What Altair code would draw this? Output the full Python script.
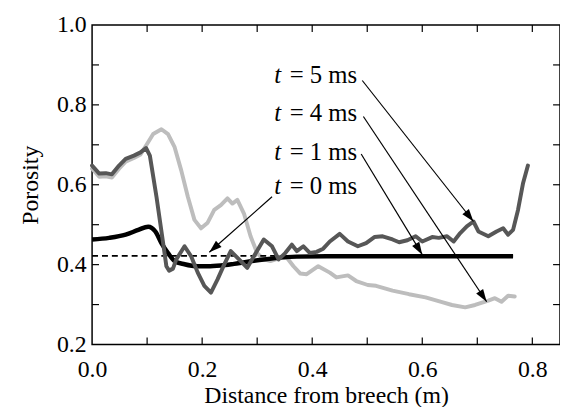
import math
import altair as alt
import pandas as pd

# ---- data ----
t5_x = [0.000, 0.013, 0.025, 0.036, 0.049, 0.061, 0.076, 0.088, 0.098, 0.105, 0.117, 0.129,
        0.135, 0.140, 0.147, 0.153, 0.168, 0.180, 0.192, 0.204, 0.216, 0.228, 0.240, 0.252,
        0.267, 0.282, 0.294, 0.312, 0.327, 0.339, 0.351, 0.363, 0.372, 0.384, 0.396, 0.408,
        0.420, 0.432, 0.450, 0.465, 0.483, 0.498, 0.513, 0.528, 0.546, 0.558, 0.573, 0.588,
        0.600, 0.618, 0.630, 0.645, 0.657, 0.669, 0.681, 0.693, 0.702, 0.720, 0.735, 0.747,
        0.756, 0.765, 0.774, 0.783, 0.792]
t5_y = [0.648, 0.628, 0.629, 0.626, 0.648, 0.665, 0.673, 0.681, 0.692, 0.673, 0.570, 0.455,
        0.396, 0.385, 0.390, 0.413, 0.446, 0.421, 0.380, 0.347, 0.330, 0.363, 0.400, 0.434,
        0.413, 0.392, 0.421, 0.463, 0.446, 0.413, 0.429, 0.450, 0.434, 0.446, 0.429, 0.432,
        0.440, 0.458, 0.477, 0.458, 0.446, 0.454, 0.469, 0.471, 0.463, 0.456, 0.461, 0.471,
        0.458, 0.469, 0.467, 0.471, 0.458, 0.479, 0.496, 0.508, 0.483, 0.471, 0.483, 0.491,
        0.475, 0.487, 0.537, 0.603, 0.648]

t4_x = [0.000, 0.013, 0.025, 0.036, 0.049, 0.061, 0.076, 0.088, 0.099, 0.111, 0.126, 0.138,
        0.150, 0.162, 0.174, 0.186, 0.198, 0.210, 0.222, 0.234, 0.246, 0.255, 0.264, 0.276,
        0.288, 0.300, 0.312, 0.324, 0.342, 0.354, 0.366, 0.378, 0.390, 0.411, 0.432, 0.444,
        0.465, 0.480, 0.501, 0.516, 0.546, 0.576, 0.606, 0.636, 0.654, 0.678, 0.696, 0.720,
        0.732, 0.744, 0.756, 0.768]
t4_y = [0.640, 0.620, 0.621, 0.618, 0.640, 0.658, 0.667, 0.676, 0.700, 0.727, 0.739, 0.727,
        0.694, 0.636, 0.570, 0.512, 0.491, 0.505, 0.537, 0.549, 0.566, 0.553, 0.562, 0.528,
        0.471, 0.429, 0.413, 0.409, 0.417, 0.417, 0.396, 0.378, 0.376, 0.396, 0.380, 0.368,
        0.373, 0.359, 0.349, 0.347, 0.335, 0.326, 0.318, 0.306, 0.299, 0.293, 0.299, 0.310,
        0.316, 0.307, 0.322, 0.320]

t1_x = [0.000, 0.031, 0.061, 0.084, 0.102, 0.115, 0.126, 0.138, 0.150, 0.168, 0.192, 0.210,
        0.234, 0.258, 0.312, 0.372, 0.426, 0.765]
t1_y = [0.463, 0.467, 0.475, 0.487, 0.495, 0.483, 0.454, 0.429, 0.409, 0.401, 0.396, 0.396,
        0.398, 0.402, 0.413, 0.420, 0.421, 0.421]

t0_x = [0.000, 0.765]
t0_y = [0.422, 0.422]

# annotations: label, label baseline y, arrow start (x, y), arrow tip (x, y)
ann_labels = ["= 5 ms", "= 4 ms", "= 1 ms", "= 0 ms"]
ann_text_y = [0.854, 0.760, 0.662, 0.578]
ann_x0 = [0.491, 0.493, 0.489, 0.327]
ann_y0 = [0.861, 0.771, 0.677, 0.570]
ann_x1 = [0.693, 0.717, 0.600, 0.213]
ann_y1 = [0.508, 0.307, 0.425, 0.431]

x_ticks = [0.0, 0.2, 0.4, 0.6, 0.8]
y_ticks = [0.2, 0.4, 0.6, 0.8, 1.0]
x_minor = [0.1, 0.2, 0.3, 0.4, 0.5, 0.6, 0.7, 0.8]
y_minor = [0.3, 0.4, 0.5, 0.6, 0.7, 0.8, 0.9]

# ---- layout ----
W, H = 473, 323
XD = [0.0, 0.8503]
YD = [0.2, 1.0]
FONT = "Liberation Serif"
px_x = W / (XD[1] - XD[0])
px_y = H / (YD[1] - YD[0])
TL = 7  # inward tick length in px

xs = alt.Scale(domain=XD, nice=False, zero=False)
ys = alt.Scale(domain=YD, nice=False, zero=False)

def line_df(xv, yv):
    return pd.DataFrame({"x": xv, "y": yv})

X = alt.X("x:Q", scale=xs, axis=alt.Axis(values=x_ticks, format=".1f", title="Distance from breech (m)",
                                          labelPadding=13, titlePadding=3, labelFlush=False))
Y = alt.Y("y:Q", scale=ys, axis=alt.Axis(values=y_ticks, format=".1f", title="Porosity",
                                          labelPadding=6, titlePadding=14, labelFlush=False))

light = alt.Chart(line_df(t4_x, t4_y)).mark_line(color="#bdbdbd", strokeWidth=4, strokeJoin="round", strokeCap="round").encode(x=X, y=Y)
dashed = alt.Chart(line_df(t0_x, t0_y)).mark_line(color="black", strokeWidth=1.6, strokeDash=[6, 4]).encode(x="x:Q", y="y:Q")
black = alt.Chart(line_df(t1_x, t1_y)).mark_line(color="black", strokeWidth=4.5, strokeJoin="round", interpolate="monotone").encode(x="x:Q", y="y:Q")
dark = alt.Chart(line_df(t5_x, t5_y)).mark_line(color="#575757", strokeWidth=4, strokeJoin="round", strokeCap="round").encode(x="x:Q", y="y:Q")

# inward ticks
dx_t = TL / px_x
dy_t = TL / px_y
tick_rows = []
for v in x_minor:
    tick_rows.append({"x": v, "x2": v, "y": YD[0], "y2": YD[0] + dy_t})
    tick_rows.append({"x": v, "x2": v, "y": YD[1], "y2": YD[1] - dy_t})
for v in y_minor:
    tick_rows.append({"x": XD[0], "x2": XD[0] + dx_t, "y": v, "y2": v})
    tick_rows.append({"x": XD[1], "x2": XD[1] - dx_t, "y": v, "y2": v})
ticks = alt.Chart(pd.DataFrame(tick_rows)).mark_rule(color="black", strokeWidth=1.2).encode(
    x="x:Q", x2="x2:Q", y="y:Q", y2="y2:Q")

# annotations
ann = pd.DataFrame({"label": ann_labels, "ty": ann_text_y, "x0": ann_x0, "y0": ann_y0,
                    "x1": ann_x1, "y1": ann_y1})
ann["angle"] = [
    (math.degrees(math.atan2((a1 - a0) * px_x, (b1 - b0) * px_y)) + 360) % 360
    for a0, b0, a1, b1 in zip(ann_x0, ann_y0, ann_x1, ann_y1)
]
ann["tx"] = 0.4818
ann["tt"] = 0.331

arrows = alt.Chart(ann).mark_rule(color="black", strokeWidth=1.2).encode(
    x="x0:Q", y="y0:Q", x2="x1:Q", y2="y1:Q")
heads = alt.Chart(ann).mark_point(shape="M0,0L-0.33,1L0.33,1Z", filled=True, color="black",
                                  size=650, opacity=1, strokeWidth=0).encode(
    x="x1:Q", y="y1:Q", angle=alt.Angle("angle:Q", scale=None))
txt_t = alt.Chart(ann).mark_text(font=FONT, fontSize=25, fontStyle="italic", align="left",
                                 baseline="alphabetic", color="black").encode(
    x="tt:Q", y="ty:Q", text=alt.value("t"))
txt_r = alt.Chart(ann).mark_text(font=FONT, fontSize=25, align="right",
                                 baseline="alphabetic", color="black").encode(
    x="tx:Q", y="ty:Q", text="label:N")

chart = alt.layer(light, dashed, black, dark, ticks, arrows, heads, txt_t, txt_r).properties(
    width=W, height=H,
    autosize=alt.AutoSizeParams(type="none"),
    padding={"left": 85, "top": 15, "right": 0, "bottom": 62},
).configure(
    background="white",
    view=alt.ViewConfig(stroke="black", strokeWidth=1.5),
    axis=alt.AxisConfig(
        domain=False, ticks=False, grid=False,
        labelFont=FONT, labelFontSize=24, labelColor="black",
        titleFont=FONT, titleFontSize=24, titleFontWeight="normal", titleColor="black",
    ),
)

chart.save("out.html", embed_options={"renderer": "svg", "actions": False})
